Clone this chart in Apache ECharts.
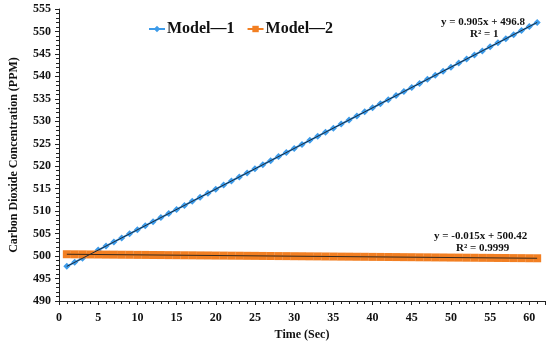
<!DOCTYPE html>
<html><head><meta charset="utf-8">
<script src="https://cdn.jsdelivr.net/npm/echarts@6/dist/echarts.min.js"></script>
<style>html,body{margin:0;padding:0;background:#fff}#c{width:550px;height:347px}</style>
</head><body><div id="c"></div>
<script>
const timeSec = [1,2,3,4,5,6,7,8,9,10,11,12,13,14,15,16,17,18,19,20,21,22,23,24,25,26,27,28,29,30,31,32,33,34,35,36,37,38,39,40,41,42,43,44,45,46,47,48,49,50,51,52,53,54,55,56,57,58,59,60,61];
const model1 = [497.71,498.61,499.52,500.42,501.33,502.23,503.14,504.04,504.95,505.85,506.76,507.66,508.57,509.47,510.38,511.28,512.19,513.09,514.00,514.90,515.81,516.71,517.62,518.52,519.43,520.33,521.24,522.14,523.05,523.95,524.86,525.76,526.67,527.57,528.48,529.38,530.29,531.19,532.10,533.00,533.91,534.81,535.72,536.62,537.53,538.43,539.34,540.24,541.15,542.05,542.96,543.86,544.77,545.67,546.58,547.48,548.39,549.29,550.20,551.10,552.01];
const model2 = [500.41,500.39,500.38,500.36,500.35,500.33,500.32,500.30,500.29,500.27,500.26,500.24,500.23,500.21,500.20,500.18,500.17,500.15,500.14,500.12,500.11,500.09,500.08,500.06,500.05,500.03,500.02,500.00,499.99,499.97,499.96,499.94,499.93,499.91,499.90,499.88,499.87,499.85,499.84,499.82,499.81,499.79,499.78,499.76,499.75,499.73,499.72,499.70,499.69,499.67,499.66,499.64,499.63,499.61,499.60,499.58,499.57,499.55,499.54,499.52,499.51];
const trendX = [1, 61];
const trend1 = [497.71, 552.01];
const trend2 = [500.41, 499.51];
const seriesNames = ['Model\u20141', 'Model\u20142'];
const eq1 = ['y = 0.905x + 496.8', 'R\u00b2 = 1'];
const eq2 = ['y = -0.015x + 500.42', 'R\u00b2 = 0.9999'];

const font = 'Liberation Serif, Times New Roman, serif';
const chart = echarts.init(document.getElementById('c'));
const pair = (xs, ys) => xs.map((x, i) => [x, ys[i]]);
chart.setOption({
  animation: false,
  backgroundColor: '#fff',
  grid: {left: 52, right: 5, top: 9, bottom: 46},
  legend: {
    data: seriesNames, left: 143, top: 16, itemWidth: 16, itemHeight: 8, itemGap: 12,
    textStyle: {fontFamily: font, fontWeight: 'bold', fontSize: 16, color: '#111', padding: [0, 0, 0, -3]}
  },
  xAxis: {
    type: 'value', min: 0, max: 62, interval: 5,
    name: 'Time (Sec)', nameLocation: 'middle', nameGap: 27,
    nameTextStyle: {fontFamily: font, fontWeight: 'bold', fontSize: 12, color: '#111'},
    axisLine: {lineStyle: {color: '#222'}},
    axisTick: {length: 4, lineStyle: {color: '#222'}},
    minorTick: {show: true, splitNumber: 5, length: 3, lineStyle: {color: '#222'}},
    splitLine: {show: false},
    axisLabel: {fontFamily: font, fontWeight: 'bold', fontSize: 12, color: '#111', showMaxLabel: false, margin: 11}
  },
  yAxis: {
    type: 'value', min: 490, max: 555, interval: 5,
    name: 'Carbon Dioxide Concentration (PPM)', nameLocation: 'middle', nameGap: 39,
    nameTextStyle: {fontFamily: font, fontWeight: 'bold', fontSize: 12, color: '#111'},
    axisLine: {show: true, lineStyle: {color: '#222'}},
    axisTick: {show: true, length: 4, lineStyle: {color: '#222'}},
    minorTick: {show: true, splitNumber: 5, length: 3, lineStyle: {color: '#222'}},
    splitLine: {show: false},
    axisLabel: {fontFamily: font, fontWeight: 'bold', fontSize: 12, color: '#111', margin: 8}
  },
  series: [
    {name: seriesNames[0], type: 'line', data: pair(timeSec, model1), symbol: 'diamond', symbolSize: 7,
     color: '#3d9be9', lineStyle: {width: 2, color: '#3d9be9'}, itemStyle: {color: '#3d9be9'}, z: 2},
    {name: seriesNames[1], type: 'line', data: pair(timeSec, model2), symbol: 'rect', symbolSize: 8,
     color: '#f27f22', lineStyle: {width: 2, color: '#f27f22'}, itemStyle: {color: '#f27f22'}, z: 2},
    {type: 'line', data: pair(trendX, trend1), symbol: 'none', lineStyle: {width: 1, color: '#1c2a3a'}, z: 3, silent: true},
    {type: 'line', data: pair(trendX, trend2), symbol: 'none', lineStyle: {width: 1, color: '#3a2a1c'}, z: 3, silent: true}
  ],
  graphic: [
    {type: 'text', left: 441, top: 17, style: {text: eq1[0], font: 'bold 11px ' + font, fill: '#111'}},
    {type: 'text', left: 470, top: 29, style: {text: eq1[1], font: 'bold 11px ' + font, fill: '#111'}},
    {type: 'text', left: 434, top: 231, style: {text: eq2[0], font: 'bold 11px ' + font, fill: '#111'}},
    {type: 'text', left: 456, top: 243, style: {text: eq2[1], font: 'bold 11px ' + font, fill: '#111'}}
  ]
});
</script></body></html>
